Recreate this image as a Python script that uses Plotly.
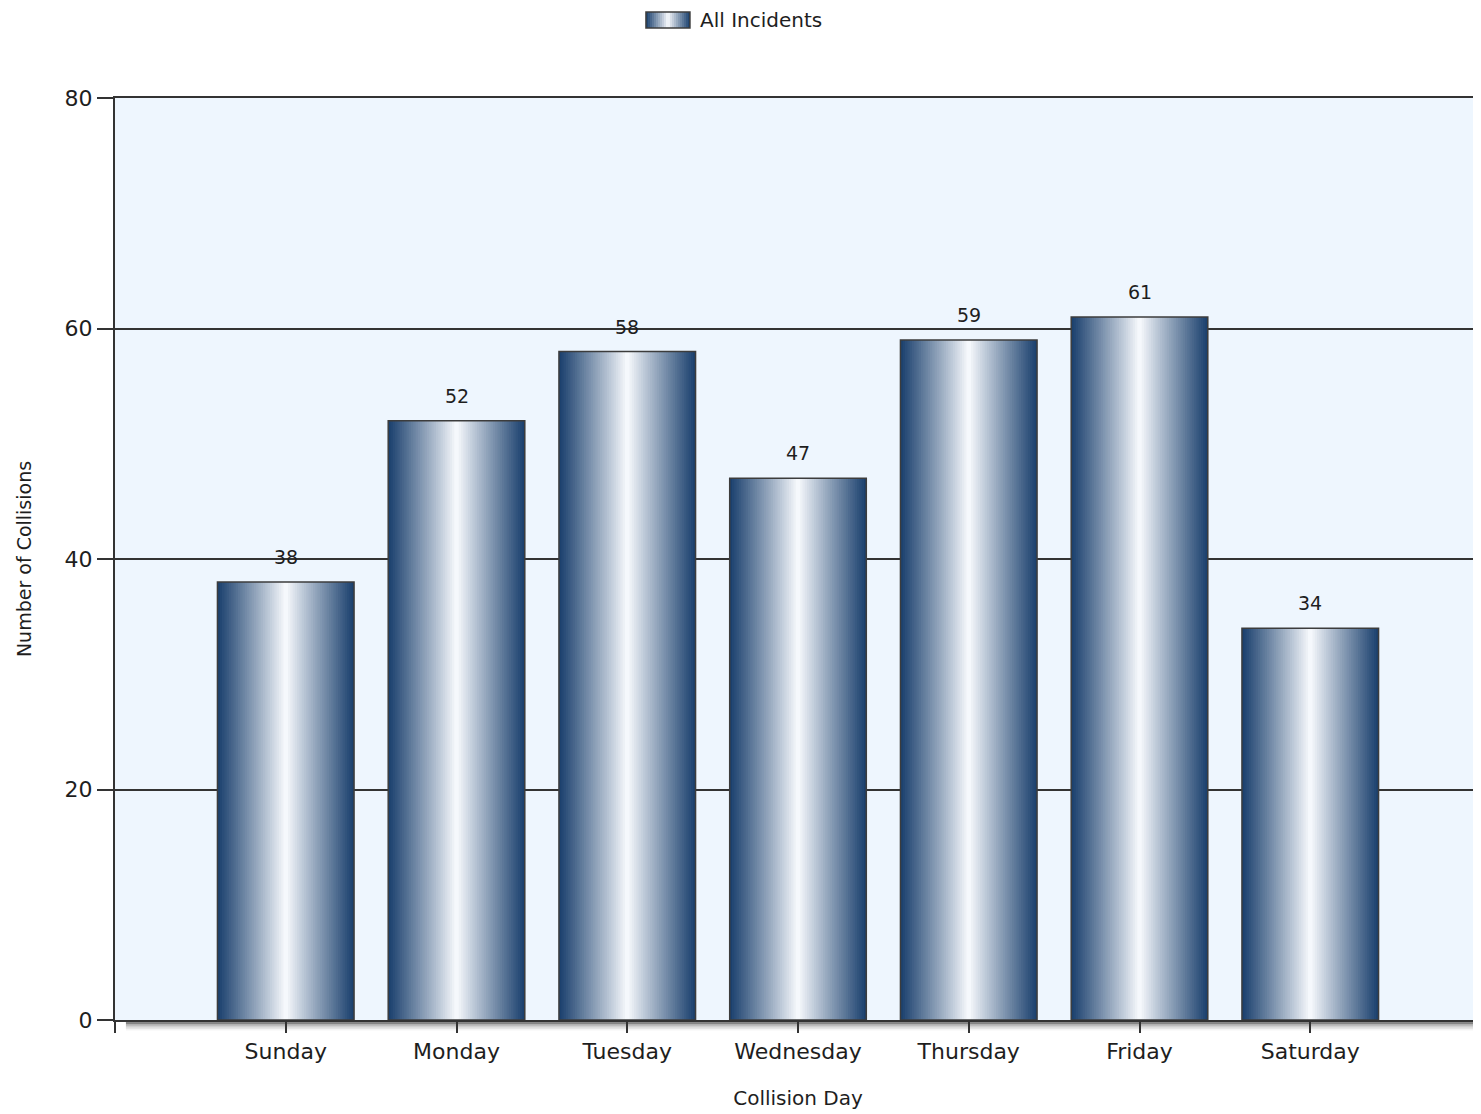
import plotly.graph_objects as go

days = ["Sunday", "Monday", "Tuesday", "Wednesday", "Thursday", "Friday", "Saturday"]
collisions = [38, 52, 58, 47, 59, 61, 34]
y_ticks = [0, 20, 40, 60, 80]
series_name = "All Incidents"

FONT = "DejaVu Sans, Verdana, sans-serif"
TXT = "#1e1e1e"
NAVY = (24, 62, 108)
WHITE = (250, 252, 255)
BAR_W = 0.8
N = 60

def mix(f):
    return "rgb(%d,%d,%d)" % tuple(round(WHITE[k] * (1 - f) + NAVY[k] * f) for k in range(3))

fig = go.Figure()

# base bar (carries the legend entry; its own symbol is kept invisible,
# the gradient swatch is drawn beneath it)
fig.add_trace(go.Bar(
    x=days, y=collisions, name=series_name, width=BAR_W,
    marker=dict(color="rgba(0,0,0,0)", line=dict(color="rgba(0,0,0,0)", width=0)),
    showlegend=True, hoverinfo="skip",
))

# horizontal gradient strips (each overlaps the next to avoid seams)
sw = BAR_W / N
for i in range(N):
    t = abs(2 * (i + 0.5) / N - 1)
    c = mix(t ** 0.95)
    off = -BAR_W / 2 + i * sw
    w = min(2.5 * sw, BAR_W / 2 - off)
    fig.add_trace(go.Bar(
        x=days, y=collisions, width=w, offset=off,
        marker=dict(color=c, line=dict(width=0)),
        showlegend=False, hoverinfo="skip",
    ))

# outline
fig.add_trace(go.Bar(
    x=days, y=collisions, width=BAR_W,
    marker=dict(color="rgba(0,0,0,0)", line=dict(color="#3c3c3c", width=1.5)),
    showlegend=False, hovertemplate="%{x}: %{y}<extra></extra>",
))

annotations = [
    dict(x=d, y=v, text=str(v), showarrow=False, yshift=25,
         font=dict(family=FONT, size=19, color=TXT), xref="x", yref="y")
    for d, v in zip(days, collisions)
]

shapes = []
# shadow under the bottom axis
grays = ["rgba(50,50,50,0.85)", "rgba(80,80,80,0.7)", "rgba(110,110,110,0.55)",
         "rgba(140,140,140,0.42)", "rgba(170,170,170,0.3)", "rgba(200,200,200,0.2)"]
for k, g in enumerate(grays):
    shapes.append(dict(type="rect", xref="paper", yref="paper", x0=0.008, x1=1.0,
                       ysizemode="pixel", yanchor=0, y0=-1 - k * 1.6, y1=-2.6 - k * 1.6,
                       fillcolor=g, line=dict(width=0), layer="below"))
# corner tick below the y axis
shapes.append(dict(type="line", xref="paper", yref="paper", x0=0, x1=0,
                   ysizemode="pixel", yanchor=0, y0=0, y1=-13,
                   line=dict(color="#333333", width=2)))

# gradient swatch for the legend entry
LX0, LX1, LY0, LY1 = 0.3887, 0.4209, 1.0759, 1.0933
M = 22
for i in range(M):
    t = abs(2 * (i + 0.5) / M - 1)
    c = mix(t ** 0.95)
    x0 = LX0 + (LX1 - LX0) * i / M
    x1 = min(LX1, LX0 + (LX1 - LX0) * (i + 2) / M)
    shapes.append(dict(type="rect", xref="paper", yref="paper",
                       x0=x0, x1=x1, y0=LY0, y1=LY1, fillcolor=c, line=dict(width=0)))
shapes.append(dict(type="rect", xref="paper", yref="paper", x0=LX0, x1=LX1, y0=LY0, y1=LY1,
                   fillcolor="rgba(0,0,0,0)", line=dict(width=1.5, color="#3c3c3c")))

fig.update_layout(
    width=1481, height=1106,
    margin=dict(l=107, r=8, t=90, b=94, autoexpand=False),
    paper_bgcolor="white", plot_bgcolor="#eef6fe",
    barmode="overlay", bargap=0.2,
    font=dict(family=FONT, color=TXT, size=20),
    showlegend=True,
    legend=dict(orientation="h", x=0.399, xanchor="left", y=1.085, yanchor="middle",
                font=dict(family=FONT, size=20, color=TXT), bgcolor="rgba(0,0,0,0)"),
    annotations=annotations, shapes=shapes,
    xaxis=dict(
        type="category", range=[-1, 7], showgrid=False,
        showline=True, linecolor="#333333", linewidth=2, mirror=True,
        ticks="outside", ticklen=11, tickwidth=2, tickcolor="#333333",
        tickfont=dict(family=FONT, size=22, color=TXT),
        title=dict(text="Collision Day", font=dict(family=FONT, size=20, color=TXT), standoff=28),
        zeroline=False, automargin=False,
    ),
    yaxis=dict(
        range=[0, 80], tickvals=y_ticks, showgrid=True, gridcolor="#333333", gridwidth=1.5,
        showline=True, linecolor="#333333", linewidth=2,
        ticks="outside", ticklen=16, tickwidth=2, tickcolor="#333333",
        tickfont=dict(family=FONT, size=22, color=TXT),
        title=dict(text="Number of Collisions", font=dict(family=FONT, size=19, color=TXT), standoff=28),
        zeroline=False, automargin=False,
    ),
)

fig.write_html("out.html")
